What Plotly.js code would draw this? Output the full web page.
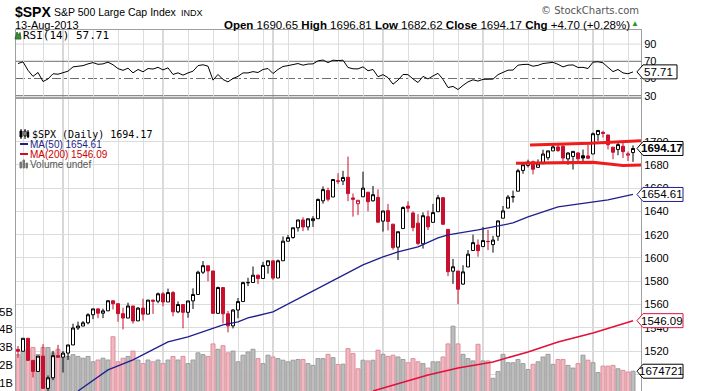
<!DOCTYPE html>
<html><head><meta charset="utf-8">
<script src="https://cdn.plot.ly/plotly-3.0.1.min.js"></script>
<style>body{margin:0;padding:0;background:#fff}#chart{width:725px;height:391px}</style>
</head><body><div id="chart"></div>
<script>
// ---------- DATA ----------
const dates = ['2013-02-15','2013-02-19','2013-02-20','2013-02-21','2013-02-22','2013-02-25','2013-02-26','2013-02-27','2013-02-28','2013-03-01',
'2013-03-04','2013-03-05','2013-03-06','2013-03-07','2013-03-08','2013-03-11','2013-03-12','2013-03-13','2013-03-14','2013-03-15',
'2013-03-18','2013-03-19','2013-03-20','2013-03-21','2013-03-22','2013-03-25','2013-03-26','2013-03-27','2013-03-28','2013-04-01',
'2013-04-02','2013-04-03','2013-04-04','2013-04-05','2013-04-08','2013-04-09','2013-04-10','2013-04-11','2013-04-12','2013-04-15',
'2013-04-16','2013-04-17','2013-04-18','2013-04-19','2013-04-22','2013-04-23','2013-04-24','2013-04-25','2013-04-26','2013-04-29',
'2013-04-30','2013-05-01','2013-05-02','2013-05-03','2013-05-06','2013-05-07','2013-05-08','2013-05-09','2013-05-10','2013-05-13',
'2013-05-14','2013-05-15','2013-05-16','2013-05-17','2013-05-20','2013-05-21','2013-05-22','2013-05-23','2013-05-24','2013-05-28',
'2013-05-29','2013-05-30','2013-05-31','2013-06-03','2013-06-04','2013-06-05','2013-06-06','2013-06-07','2013-06-10','2013-06-11',
'2013-06-12','2013-06-13','2013-06-14','2013-06-17','2013-06-18','2013-06-19','2013-06-20','2013-06-21','2013-06-24','2013-06-25',
'2013-06-26','2013-06-27','2013-06-28','2013-07-01','2013-07-02','2013-07-03','2013-07-05','2013-07-08','2013-07-09','2013-07-10',
'2013-07-11','2013-07-12','2013-07-15','2013-07-16','2013-07-17','2013-07-18','2013-07-19','2013-07-22','2013-07-23','2013-07-24',
'2013-07-25','2013-07-26','2013-07-29','2013-07-30','2013-07-31','2013-08-01','2013-08-02','2013-08-05','2013-08-06','2013-08-07',
'2013-08-08','2013-08-09','2013-08-12','2013-08-13'];

const prevClose0 = 1521.38;

const open = [1521.38,1519.79,1530.94,1511.95,1502.42,1515.60,1487.85,1496.94,1515.99,1514.68,
1518.20,1525.20,1539.79,1541.46,1544.26,1551.15,1556.22,1552.48,1554.52,1563.21,
1560.70,1552.10,1548.34,1558.71,1545.90,1556.89,1551.69,1563.75,1562.86,1569.18,
1562.17,1570.25,1553.69,1559.98,1553.26,1563.11,1568.61,1587.73,1593.30,1588.84,
1552.36,1574.57,1552.03,1541.61,1555.25,1562.50,1578.78,1578.93,1585.16,1582.34,
1593.58,1597.55,1582.77,1597.60,1614.40,1617.55,1625.95,1632.69,1626.69,1632.10,
1633.75,1649.13,1658.07,1652.45,1665.71,1666.20,1669.39,1651.62,1646.67,1652.63,
1656.57,1649.14,1652.13,1631.71,1640.73,1629.05,1609.29,1625.27,1644.67,1638.64,
1629.94,1612.15,1635.52,1630.64,1639.77,1651.83,1624.62,1588.62,1588.77,1577.52,
1592.27,1606.44,1611.12,1609.78,1614.29,1611.48,1618.65,1634.20,1642.89,1652.50,
1657.41,1675.26,1679.59,1682.70,1677.91,1681.05,1686.15,1692.09,1695.53,1696.06,
1685.21,1687.31,1690.32,1687.92,1687.76,1689.42,1706.10,1708.01,1705.79,1695.30,
1693.35,1696.10,1688.37,1690.65];

const high = [1524.24,1530.94,1530.94,1511.95,1515.64,1525.84,1498.99,1520.08,1525.34,1519.99,
1525.27,1543.47,1545.25,1545.78,1552.48,1556.27,1556.77,1556.39,1563.32,1563.62,
1560.70,1557.25,1561.56,1558.71,1557.74,1564.91,1563.95,1564.07,1570.28,1570.57,
1573.66,1571.47,1562.60,1559.98,1563.07,1573.89,1589.07,1597.35,1593.30,1588.84,
1575.35,1574.57,1554.38,1555.89,1565.55,1579.58,1583.00,1592.64,1585.78,1596.65,
1597.57,1597.55,1598.60,1618.46,1619.77,1626.03,1632.78,1635.01,1633.70,1636.00,
1651.10,1661.49,1660.51,1667.47,1672.84,1674.93,1687.18,1655.50,1649.78,1674.21,
1656.57,1661.91,1658.99,1640.42,1646.53,1629.31,1622.56,1644.40,1648.69,1640.13,
1637.71,1639.25,1640.80,1646.50,1654.19,1652.45,1624.62,1599.19,1588.77,1593.79,
1606.83,1620.07,1615.94,1626.61,1624.26,1618.97,1632.07,1644.68,1654.18,1657.92,
1676.63,1680.19,1684.51,1683.73,1684.75,1693.12,1692.09,1697.61,1698.78,1698.38,
1690.94,1691.85,1690.92,1693.19,1698.43,1707.85,1709.67,1709.24,1705.79,1695.30,
1700.18,1699.42,1691.49,1696.81];

const low = [1514.14,1519.79,1511.41,1497.29,1502.42,1487.85,1485.01,1494.88,1514.46,1501.48,
1512.29,1525.20,1538.11,1541.46,1542.94,1547.36,1548.24,1548.25,1554.52,1555.74,
1545.13,1538.57,1548.34,1543.55,1545.90,1546.22,1551.69,1551.90,1561.08,1558.47,
1562.17,1549.80,1552.52,1539.50,1548.63,1556.14,1568.61,1586.17,1579.97,1552.28,
1552.36,1543.69,1536.03,1539.40,1548.19,1562.50,1575.80,1578.93,1577.56,1582.34,
1586.50,1581.28,1582.77,1597.60,1614.21,1616.64,1622.70,1623.09,1623.71,1626.74,
1633.75,1646.68,1648.60,1652.45,1663.52,1662.67,1648.86,1635.53,1636.88,1652.63,
1640.05,1648.61,1630.74,1622.72,1623.62,1607.09,1598.23,1625.27,1639.26,1622.92,
1610.92,1608.07,1623.96,1630.34,1639.77,1628.91,1584.32,1577.70,1560.33,1577.09,
1592.27,1606.44,1601.06,1609.78,1606.77,1604.57,1614.71,1634.20,1642.89,1647.66,
1657.41,1672.33,1677.89,1671.84,1677.91,1681.05,1684.08,1692.09,1691.13,1682.57,
1680.07,1676.03,1681.86,1682.42,1684.94,1689.42,1700.68,1703.55,1693.29,1684.91,
1688.38,1686.02,1683.35,1682.62];

const close = [1519.79,1530.94,1511.95,1502.42,1515.60,1487.85,1496.94,1515.99,1514.68,1518.20,
1525.20,1539.79,1541.46,1544.26,1551.18,1556.22,1552.48,1554.52,1563.23,1560.70,
1552.10,1548.34,1558.71,1545.80,1556.89,1551.69,1563.77,1562.85,1569.19,1562.17,
1570.25,1553.69,1559.98,1553.28,1563.07,1568.61,1587.73,1593.37,1588.85,1552.36,
1574.57,1552.01,1541.61,1555.25,1562.50,1578.78,1578.79,1585.16,1582.24,1593.61,
1597.57,1582.70,1597.59,1614.42,1617.50,1625.96,1632.69,1626.67,1633.70,1633.77,
1650.34,1658.78,1650.47,1667.47,1666.29,1669.16,1655.35,1650.51,1649.60,1660.06,
1648.36,1654.41,1630.74,1640.42,1631.38,1608.90,1622.56,1643.38,1642.81,1626.13,
1612.52,1636.36,1626.73,1639.04,1651.81,1628.93,1588.19,1592.43,1573.09,1588.03,
1603.26,1613.20,1606.28,1614.96,1614.08,1615.41,1631.89,1640.46,1652.32,1652.62,
1675.02,1680.19,1682.50,1676.26,1680.91,1689.37,1692.09,1695.53,1692.39,1685.94,
1690.25,1691.65,1685.33,1685.96,1685.73,1706.87,1709.67,1707.14,1697.37,1690.91,
1697.48,1691.42,1689.47,1694.17];

// volume in billions of shares
const volume = [2.6,2.8,2.9,3.0,2.6,3.0,3.0,2.7,2.9,2.6,
2.5,2.6,2.5,2.4,2.5,2.2,2.3,2.4,2.3,3.6,
2.2,2.4,2.5,2.8,2.3,2.1,2.3,2.2,2.3,2.1,
2.3,2.5,2.3,2.5,2.1,2.3,2.7,2.6,2.5,3.2,
2.9,3.1,2.7,2.8,2.2,2.57,2.75,2.9,2.38,2.1,
2.57,2.47,2.38,2.29,2.2,2.29,2.33,2.33,2.1,2.0,
2.38,2.38,2.62,2.43,2.05,2.07,2.94,2.67,1.81,2.29,
2.25,2.29,2.85,2.62,2.5,2.57,2.47,2.33,2.15,2.38,
2.2,2.1,1.85,2.2,2.2,2.47,3.2,4.19,3.2,2.62,
2.38,2.25,3.18,2.25,2.25,1.28,1.66,2.62,2.15,2.15,
2.33,2.1,1.77,2.06,2.2,2.47,2.62,2.06,2.33,2.33,
2.0,1.85,2.1,2.57,2.29,2.15,1.6,1.96,1.96,2.0,
1.81,1.72,1.63,1.674721];

// MA(50) (candle index, value)
const ma50Idx = [12,18,23,26,30,34,38,41,44,46,51,56,62,69,73,76,80,84,86,92,99,102,108,112,118,123];
const ma50Val = [1485.6,1503.7,1512.3,1519.2,1527.8,1532.1,1538.1,1542.4,1545.0,1548.4,1553.6,1564.7,1578.5,1594.0,1600.9,1605.2,1609.5,1617.2,1619.8,1624.1,1630.1,1635.3,1643.9,1646.4,1649.9,1654.61];
// MA(200)
const ma200Idx = [71,82,88,95,102,108,115,123];
const ma200Val = [1485.6,1499.4,1505.4,1510.6,1519.2,1527.8,1535.5,1546.09];

// RSI(14)
const rsi = [67.4,69.4,59.5,52.5,57,46.5,49.5,55.5,55,56.5,
58.5,63.5,64,65,67,68.5,66.5,67,69,66,
61.5,59.5,62,56.6,60.5,57.8,61.6,61,63,60,
62.4,54.7,56.6,53.9,56.5,58.5,65,66,64.3,48.1,
54.7,48.8,46.1,50,52.5,56.5,56.5,58,57,60.5,
61.6,55.8,60.5,64,65,66.5,67.4,65.5,66.8,67,
70.5,71.5,68.5,71.3,70.8,71.3,62.8,61.3,61.2,63.6,
59,60.5,52,54.5,51,43.4,48.1,54.7,54.5,49.5,
45.3,52.5,49.5,53,56,49,39.5,40.8,37.2,42,
46.1,48.5,47,49,48.8,49.3,54.5,57,59.7,59.8,
65.5,66.3,66.5,64.3,65.3,67.4,68.2,68.8,66.5,63.5,
65.5,65.8,62.8,63,61.6,69,69.5,68.2,63,58,
60.5,56.5,55.5,57.71];

// hand-drawn red channel lines (candle index, price)
const chanUpIdx = [102.4,114.4,124.6];
const chanUpVal = [1697.2,1698.6,1700.9];
const chanLoIdx = [99.6,115,121,124.6];
const chanLoVal = [1681.4,1682.3,1679.6,1680.0];

const priceTicks = [1500,1520,1540,1560,1580,1600,1620,1640,1660,1680,1700];
const volTicks = [1,2,3,4,5];
const volTickText = ['1B','2B','3B','4B','5B'];
const rsiTicks = [30,50,70,90];

// ---------- BUILD ----------
const N = close.length;
const idx = dates.map((d,i)=>i);
const weekStarts = [], monthStarts = [];
for (let i=1;i<N;i++){
  const a = new Date(dates[i-1]+'T00:00:00Z'), b = new Date(dates[i]+'T00:00:00Z');
  if (b.getUTCDay() < a.getUTCDay() || (b-a) > 3*86400000) weekStarts.push(i);
  if (b.getUTCMonth() !== a.getUTCMonth()) monthStarts.push(i);
}
const up = close.map((c,i)=> c >= (i===0?prevClose0:close[i-1]));
const blackI = idx.filter(i=>up[i]), redI = idx.filter(i=>!up[i]);
const sub = (arr, ii) => ii.map(i=>arr[i]);
const RED = '#c8102e';

function candle(ii, col){
  return {type:'candlestick', x: ii, open: sub(open,ii), high: sub(high,ii), low: sub(low,ii), close: sub(close,ii),
    xaxis:'x', yaxis:'y3', whiskerwidth:0, hoverinfo:'skip', showlegend:false,
    increasing:{line:{color:col,width:1}, fillcolor:'#ffffff'},
    decreasing:{line:{color:col,width:1}, fillcolor:col}};
}

const L=16, R=641, T=30, B=391;
const px = X => (X-L)/(R-L);
const py = Y => (B-Y)/(B-T);

const traces = [
  {type:'bar', x: idx, y: volume, xaxis:'x', yaxis:'y', width:0.8, hoverinfo:'skip', showlegend:false,
   marker:{color: up.map(u=>u?'#bdbdbd':'#f0b9c1'), line:{color: up.map(u=>u?'#9c9c9c':'#dc8e9b'), width:1}}},
  {type:'scatter', mode:'lines', x: ma200Idx, y: ma200Val, xaxis:'x', yaxis:'y3', line:{color:'#e0103a', width:1.5}, hoverinfo:'skip', showlegend:false},
  {type:'scatter', mode:'lines', x: ma50Idx, y: ma50Val, xaxis:'x', yaxis:'y3', line:{color:'#1f1f8c', width:1.3}, hoverinfo:'skip', showlegend:false},
  candle(blackI, '#000000'),
  candle(redI, RED),
  {type:'scatter', mode:'lines', x: idx, y: rsi, xaxis:'x2', yaxis:'y2', line:{color:'#000', width:1}, hoverinfo:'skip', showlegend:false}
];

const FONT = 'Arial, "Liberation Sans", sans-serif';
const MONO = '"DejaVu Sans Mono", "Liberation Mono", monospace';

const shapes = [];
monthStarts.forEach(i=>shapes.push({type:'line', xref:'x', yref:'paper', x0:i, x1:i, y0:0, y1:1, line:{color:'#b0b0b0', width:1}, layer:'below'}));
shapes.push({type:'line', xref:'paper', yref:'y2', x0:0, x1:1, y0:90, y1:90, line:{color:'#d9d9d9', width:1}, layer:'below'});
shapes.push({type:'line', xref:'paper', yref:'y2', x0:0, x1:1, y0:70, y1:70, line:{color:'#6e6e6e', width:1}, layer:'below'});
shapes.push({type:'line', xref:'paper', yref:'y2', x0:0, x1:1, y0:30, y1:30, line:{color:'#6e6e6e', width:1}, layer:'below'});
shapes.push({type:'line', xref:'paper', yref:'y2', x0:0, x1:1, y0:50, y1:50, line:{color:'#6e6e6e', width:1, dash:'dashdot'}, layer:'below'});
function pathOf(xs, ys){ return xs.map((x,k)=>(k?'L':'M')+x+','+ys[k]).join(' '); }
shapes.push({type:'path', xref:'x', yref:'y3', path: pathOf(chanUpIdx, chanUpVal), line:{color:'#ee1c1c', width:3}, layer:'above'});
shapes.push({type:'path', xref:'x', yref:'y3', path: pathOf(chanLoIdx, chanLoVal), line:{color:'#ee1c1c', width:3}, layer:'above'});

const annotations = [];
function tag(yref, val, txt, col, bold, w){
  w = w || 46;
  shapes.push({type:'path', xref:'paper', yref: yref, xsizemode:'pixel', ysizemode:'pixel', xanchor: px(637), yanchor: val,
    path: 'M0,0 L6,7 L'+w+',7 L'+w+',-7 L6,-7 Z', fillcolor:'#ffffff', line:{color:col, width:1}, layer:'above'});
  annotations.push({xref:'paper', yref: yref, x: px(637+3+(w-3)/2), y: val, xanchor:'center', yanchor:'middle', showarrow:false,
    text: bold?('<b>'+txt+'</b>'):txt, font:{family:FONT, size:11.5, color:'#000'}});
}
tag('y3', close[N-1], close[N-1].toFixed(2), '#000', true, 46);
tag('y3', ma50Val[ma50Val.length-1], ma50Val[ma50Val.length-1].toFixed(2), '#1f1f8c', false, 46);
tag('y3', ma200Val[ma200Val.length-1], ma200Val[ma200Val.length-1].toFixed(2), '#e0103a', false, 46);
tag('y', volume[N-1], String(Math.round(volume[N-1]*1e6)), '#000', false, 46);
tag('y2', rsi[N-1], rsi[N-1].toFixed(2), '#000', false, 40);

function rectP(x0,y0,x1,y1,fill,line){ shapes.push({type:'rect', xref:'paper', yref:'paper', x0:px(x0), x1:px(x1), y0:py(y0), y1:py(y1), fillcolor:fill, line:{color:line||fill, width:1}, layer:'above'}); }
function lineP(x0,y0,x1,y1,col,w){ shapes.push({type:'line', xref:'paper', yref:'paper', x0:px(x0), x1:px(x1), y0:py(y0), y1:py(y1), line:{color:col, width:w||1}, layer:'above'}); }
lineP(21,129,21,139,'#000',1); rectP(20,131,22,137,'#000','#000');
lineP(25,129,25,139,'#000',1); rectP(24,131,26,136,'#fff','#000');
lineP(28,130,28,138,'#000',1); rectP(27.3,132,28.7,137,'#000','#000');
lineP(20,144,28,144,'#1f1f8c',2);
lineP(20,154,28,154,RED,2);
rectP(20,162,21.5,168,'#777'); rectP(23,160,24.5,168,'#777'); rectP(26,163,27.5,168,'#777');
shapes.push({type:'path', xref:'paper', yref:'paper', path:'M'+px(15)+','+py(39)+' L'+px(17)+','+py(32)+' L'+px(18.5)+','+py(35)+' L'+px(20)+','+py(32.5)+' L'+px(21)+','+py(39)+' Z', fillcolor:'#3a8a3a', line:{color:'#2f6f2f', width:1}, layer:'above'});

function txt(x,y,text,size,opts){
  opts = opts||{};
  annotations.push({xref:'paper', yref:'paper', x:px(x), y:py(y), xanchor:opts.xanchor||'left', yanchor:'middle', showarrow:false,
    text:text, font:{family:opts.family||FONT, size:size, color:opts.color||'#000'}});
}
txt(13,12,'<b>$SPX</b>',14);
txt(52,12.5,'S&amp;P 500 Large Cap Index',10.5);
txt(179,13,'INDX',9);
txt(13,24.5,'13-Aug-2013',11);
txt(632,24.5,'<b>Open</b> 1690.65 <b>High</b> 1696.81 <b>Low</b> 1682.62 <b>Close</b> 1694.17 <b>Chg</b> +4.70 (+0.28%)',11.5,{xanchor:'right'});
txt(641,24,'▲',8,{xanchor:'right', color:'#1f9a1f'});
txt(641,10,'© StockCharts.com',10,{xanchor:'right', color:'#555', family:'"DejaVu Sans", Verdana, sans-serif'});
txt(21,35.5,'RSI(14) 57.71',11,{family:MONO});
txt(30,134,'$SPX (Daily) 1694.17',10,{family:MONO});
txt(28,144.5,'MA(50) 1654.61',10,{color:'#1f1f8c'});
txt(28,154.5,'MA(200) 1546.09',10,{color:'#cc0000'});
txt(28,164.5,'Volume undef',10,{color:'#555'});

const tickFont = {family:FONT, size:11, color:'#000'};
const gridX = {tickvals: weekStarts, showticklabels:false, ticks:'', showgrid:true, gridcolor:'#dcdcdc', gridwidth:1,
  zeroline:false, showline:true, mirror:true, linecolor:'#a0a0a0', linewidth:1, range:[-0.4,124.6], fixedrange:true,
  rangeslider:{visible:false}};

const layout = {
  width:725, height:391, margin:{l:L, r:725-R, t:T, b:0, pad:0},
  paper_bgcolor:'#fff', plot_bgcolor:'#fff', showlegend:false, boxgap:0.15, bargap:0,
  xaxis: Object.assign({}, gridX, {domain:[0,1], anchor:'y'}),
  xaxis2: Object.assign({}, gridX, {domain:[0,1], anchor:'y2', matches:'x'}),
  yaxis: {domain:[0, py(99)], range:[0.57,16.88], side:'left', tickvals:volTicks, ticktext:volTickText, tickfont:tickFont,
    showgrid:false, zeroline:false, showline:true, linecolor:'#a0a0a0', ticks:'', fixedrange:true},
  yaxis3: {overlaying:'y', side:'right', range:[1485.6,1736.7], tickvals:priceTicks, tickfont:tickFont,
    showgrid:true, gridcolor:'#dcdcdc', zeroline:false, showline:true, linecolor:'#a0a0a0', ticks:'', fixedrange:true},
  yaxis2: {domain:[py(97),1], range:[28.5,106.4], side:'right', anchor:'x2', tickvals:rsiTicks, tickfont:tickFont,
    showgrid:false, zeroline:false, showline:true, mirror:true, linecolor:'#a0a0a0', ticks:'', fixedrange:true},
  shapes: shapes, annotations: annotations
};

Plotly.newPlot('chart', traces, layout, {displayModeBar:false, staticPlot:true});
</script>
</body></html>
